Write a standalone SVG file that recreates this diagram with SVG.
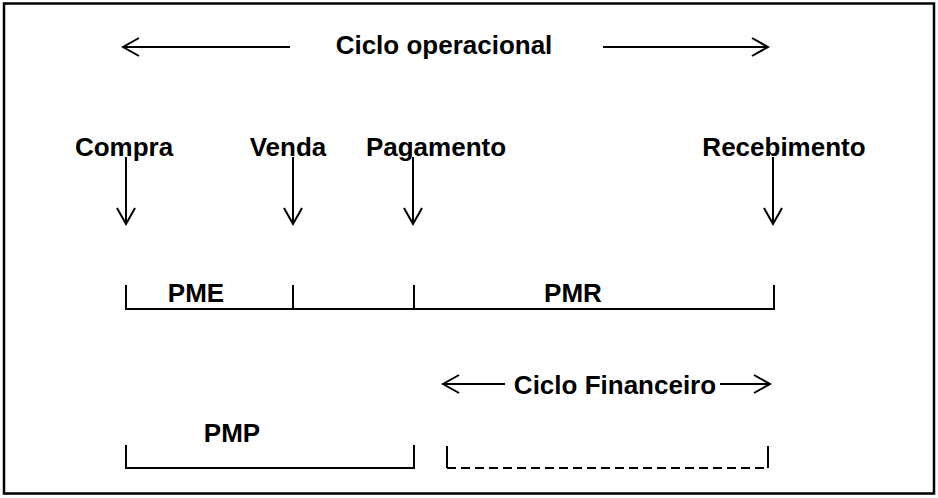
<svg xmlns="http://www.w3.org/2000/svg" width="938" height="498" viewBox="0 0 938 498">
  <style>
    .lbl { font-family: "Liberation Sans", Arial, sans-serif; font-weight: bold; font-size: 26px; fill: #000; }
    .ln { stroke: #000; stroke-width: 2; fill: none; }
    .dash { stroke: #000; stroke-width: 2; fill: none; stroke-dasharray: 9 5; }
    .head { stroke: #000; stroke-width: 2; fill: none; stroke-linejoin: miter; }
  </style>
  <defs>
    <marker id="open" viewBox="0 0 20 20" refX="18" refY="10" markerWidth="20" markerHeight="20" markerUnits="userSpaceOnUse" orient="auto-start-reverse">
      <path d="M2,1 L18,10 L2,19" class="head"/>
    </marker>
  </defs>

  <rect x="4" y="3.5" width="930" height="490" fill="#fff" stroke="#000" stroke-width="2.5"/>

  <!-- heading: operating cycle -->
  <g id="ciclo-operacional">
    <text class="lbl" x="444" y="54" text-anchor="middle">Ciclo operacional</text>
  </g>

  <!-- events -->
  <g id="compra"><text class="lbl" x="124" y="156" text-anchor="middle">Compra</text></g>
  <g id="venda"><text class="lbl" x="288" y="156" text-anchor="middle">Venda</text></g>
  <g id="pagamento"><text class="lbl" x="436" y="156" text-anchor="middle">Pagamento</text></g>
  <g id="recebimento"><text class="lbl" x="784" y="156" text-anchor="middle">Recebimento</text></g>

  <!-- periods -->
  <g id="pme"><text class="lbl" x="196" y="302" text-anchor="middle">PME</text></g>
  <g id="pmr"><text class="lbl" x="573" y="302" text-anchor="middle">PMR</text></g>
  <g id="pmp"><text class="lbl" x="232" y="442" text-anchor="middle">PMP</text></g>
  <g id="ciclo-financeiro"><text class="lbl" x="615" y="394" text-anchor="middle">Ciclo Financeiro</text></g>

  <g id="connectors">
    <!-- operating cycle span -->
    <line class="ln" x1="290" y1="47" x2="123" y2="47" marker-end="url(#open)"/>
    <line class="ln" x1="603" y1="47" x2="768" y2="47" marker-end="url(#open)"/>

    <!-- event markers -->
    <line class="ln" x1="126" y1="157" x2="126" y2="224" marker-end="url(#open)"/>
    <line class="ln" x1="293" y1="157" x2="293" y2="224" marker-end="url(#open)"/>
    <line class="ln" x1="413" y1="157" x2="413" y2="224" marker-end="url(#open)"/>
    <line class="ln" x1="773" y1="157" x2="773" y2="224" marker-end="url(#open)"/>

    <!-- operating timeline -->
    <path class="ln" d="M126,285 V309 H774 V285"/>
    <line class="ln" x1="293" y1="285" x2="293" y2="309"/>
    <line class="ln" x1="414" y1="285" x2="414" y2="309"/>

    <!-- financial cycle span -->
    <line class="ln" x1="505" y1="384" x2="443" y2="384" marker-end="url(#open)"/>
    <line class="ln" x1="720" y1="384" x2="770" y2="384" marker-end="url(#open)"/>

    <!-- payment period -->
    <path class="ln" d="M126,445 V468 H414 V445"/>

    <!-- financial cycle period -->
    <line class="ln" x1="447" y1="446" x2="447" y2="468"/>
    <line class="dash" x1="447" y1="468" x2="768" y2="468"/>
    <line class="ln" x1="768" y1="446" x2="768" y2="468"/>
  </g>
</svg>
